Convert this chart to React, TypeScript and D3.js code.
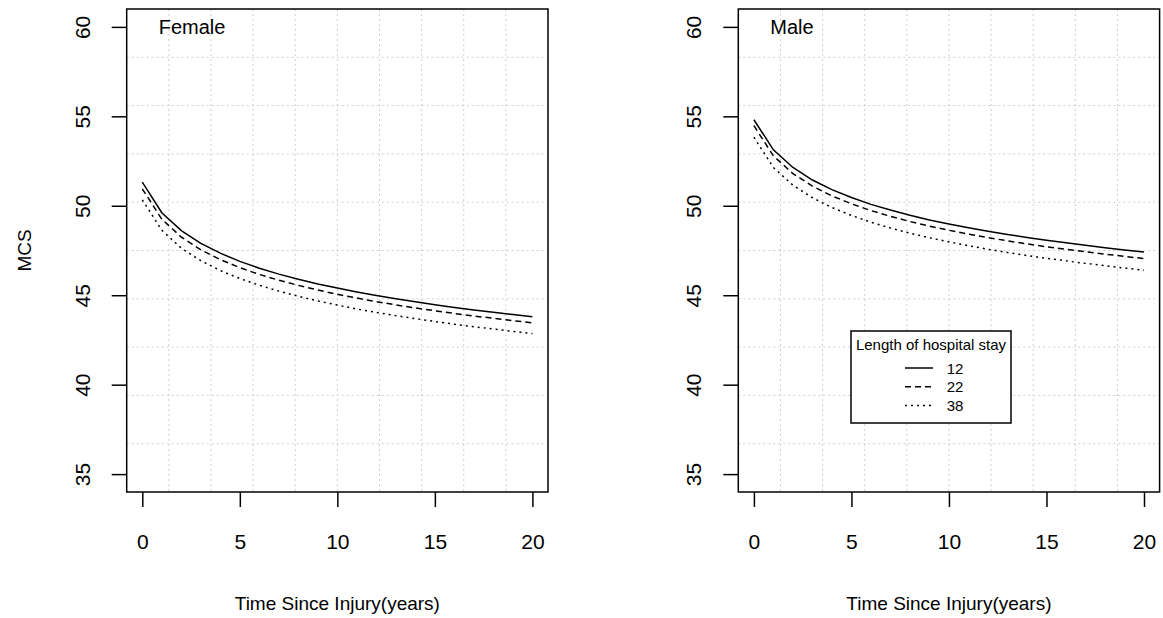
import { useEffect, useRef } from "react"
import * as d3 from "d3"

// years since injury (x) and predicted MCS for each length of stay
const years = [0, 1, 2, 3, 4, 5, 6, 7, 8, 9, 10, 11, 12, 13, 14, 15, 16, 17, 18, 19, 20]

const female12 = [51.32, 49.61, 48.61, 47.90, 47.35, 46.89, 46.51, 46.18, 45.89, 45.63, 45.40,
    45.18, 44.98, 44.80, 44.63, 44.47, 44.32, 44.18, 44.05, 43.92, 43.80]
const female22 = [50.95, 49.25, 48.25, 47.54, 46.99, 46.54, 46.16, 45.84, 45.55, 45.29, 45.05,
    44.84, 44.64, 44.46, 44.29, 44.13, 43.98, 43.84, 43.71, 43.58, 43.46]
const female38 = [50.33, 48.63, 47.63, 46.93, 46.38, 45.93, 45.56, 45.23, 44.94, 44.68, 44.45,
    44.23, 44.04, 43.86, 43.69, 43.53, 43.38, 43.24, 43.11, 42.98, 42.86]

const male12 = [54.81, 53.13, 52.14, 51.44, 50.90, 50.46, 50.08, 49.76, 49.47, 49.21, 48.98,
    48.77, 48.58, 48.40, 48.23, 48.07, 47.93, 47.79, 47.66, 47.53, 47.41]
const male22 = [54.48, 52.79, 51.80, 51.10, 50.55, 50.11, 49.73, 49.41, 49.12, 48.86, 48.63,
    48.42, 48.22, 48.04, 47.87, 47.71, 47.57, 47.43, 47.30, 47.17, 47.05]
const male38 = [53.83, 52.14, 51.15, 50.45, 49.90, 49.46, 49.08, 48.76, 48.47, 48.21, 47.98,
    47.77, 47.57, 47.39, 47.22, 47.06, 46.92, 46.78, 46.65, 46.52, 46.40]

const stayLabels = ["12", "22", "38"]
const xTicks = [0, 5, 10, 15, 20]
const yTicks = [35, 40, 45, 50, 55, 60]

const FONT = "'Liberation Sans', Arial, Helvetica, sans-serif"

export default function App() {
    const svgRef = useRef<SVGSVGElement>(null)

    useEffect(() => {
        document.body.style.margin = "0"
        const width = 1163, height = 618
        const svg = d3.select(svgRef.current)
        svg.selectAll("*").remove()
        svg.attr("width", width).attr("height", height)

        const dashes = [null, "6,4", "2,4"]
        const top = 9, bottom = 492, pw = 421.3

        const panels = [
            { label: "Female", left: 126.7, series: [female12, female22, female38], legend: false, ytitle: true },
            { label: "Male", left: 738.3, series: [male12, male22, male38], legend: true, ytitle: false },
        ]

        panels.forEach(p => {
            const x = d3.scaleLinear().domain([-0.8, 20.8]).range([p.left, p.left + pw])
            const y = d3.scaleLinear().domain([34, 61]).range([bottom, top])
            const g = svg.append("g")

            // grid (10 equal cells like R's grid())
            const gx = d3.range(1, 10).map(k => -0.8 + k * 2.16)
            const gy = d3.range(1, 10).map(k => 34 + k * 2.7)
            g.selectAll(".gx").data(gx).join("line")
                .attr("x1", d => x(d)).attr("x2", d => x(d))
                .attr("y1", top).attr("y2", bottom)
                .attr("stroke", "#cfcfcf").attr("stroke-dasharray", "2,3")
            g.selectAll(".gy").data(gy).join("line")
                .attr("y1", d => y(d)).attr("y2", d => y(d))
                .attr("x1", p.left).attr("x2", p.left + pw)
                .attr("stroke", "#cfcfcf").attr("stroke-dasharray", "2,3")

            // curves
            const line = d3.line<number>().x((_, i) => x(years[i])).y(d => y(d))
            p.series.forEach((s, i) => {
                g.append("path")
                    .attr("d", line(s))
                    .attr("fill", "none")
                    .attr("stroke", "#000")
                    .attr("stroke-width", 1.5)
                    .attr("stroke-dasharray", dashes[i])
            })

            // box
            g.append("rect")
                .attr("x", p.left).attr("y", top)
                .attr("width", pw).attr("height", bottom - top)
                .attr("fill", "none").attr("stroke", "#000").attr("stroke-width", 1.5)

            // x axis
            const xAxis = g.append("g")
                .attr("transform", `translate(0,${bottom})`)
                .call(d3.axisBottom(x).tickValues(xTicks).tickSize(15).tickSizeOuter(0))
            xAxis.select(".domain").remove()
            xAxis.selectAll("line").attr("stroke-width", 1.5)
            xAxis.selectAll("text")
                .attr("y", 42).attr("dy", "0.71em")
                .style("font-family", FONT).style("font-size", "21px").attr("fill", "#000")

            // y axis
            const yAxis = g.append("g")
                .attr("transform", `translate(${p.left},0)`)
                .call(d3.axisLeft(y).tickValues(yTicks).tickSize(15).tickSizeOuter(0))
            yAxis.select(".domain").remove()
            yAxis.selectAll("line").attr("stroke-width", 1.5)
            yAxis.selectAll("text")
                .attr("x", null).attr("dy", null)
                .attr("transform", "translate(-37,0) rotate(-90)")
                .attr("text-anchor", "middle")
                .style("font-family", FONT).style("font-size", "21px").attr("fill", "#000")

            // x title
            g.append("text")
                .attr("x", p.left + pw / 2).attr("y", 610)
                .attr("text-anchor", "middle")
                .style("font-family", FONT).style("font-size", "19px")
                .text("Time Since Injury(years)")

            if (p.ytitle) {
                g.append("text")
                    .attr("transform", `translate(31,${(top + bottom) / 2}) rotate(-90)`)
                    .attr("text-anchor", "middle")
                    .style("font-family", FONT).style("font-size", "19px")
                    .text("MCS")
            }

            // panel label
            g.append("text")
                .attr("x", p.left + 32).attr("y", 34)
                .style("font-family", FONT).style("font-size", "20px")
                .text(p.label)

            if (p.legend) {
                const lx = 851, ly = 331, lw = 160, lh = 92
                const lg = g.append("g")
                lg.append("rect")
                    .attr("x", lx).attr("y", ly).attr("width", lw).attr("height", lh)
                    .attr("fill", "#fff").attr("stroke", "#000").attr("stroke-width", 1.5)
                lg.append("text")
                    .attr("x", lx + lw / 2).attr("y", ly + 19)
                    .attr("text-anchor", "middle")
                    .style("font-family", FONT).style("font-size", "15px")
                    .text("Length of hospital stay")
                stayLabels.forEach((lab, i) => {
                    const yy = ly + 37 + i * 18.7
                    lg.append("line")
                        .attr("x1", lx + 54).attr("x2", lx + 82)
                        .attr("y1", yy).attr("y2", yy)
                        .attr("stroke", "#000").attr("stroke-width", 1.5)
                        .attr("stroke-dasharray", dashes[i])
                    lg.append("text")
                        .attr("x", lx + 104).attr("y", yy + 5.5)
                        .attr("text-anchor", "middle")
                        .style("font-family", FONT).style("font-size", "15px")
                        .text(lab)
                })
            }
        })
    }, [])

    return <svg ref={svgRef} style={{ display: "block" }}></svg>
}
